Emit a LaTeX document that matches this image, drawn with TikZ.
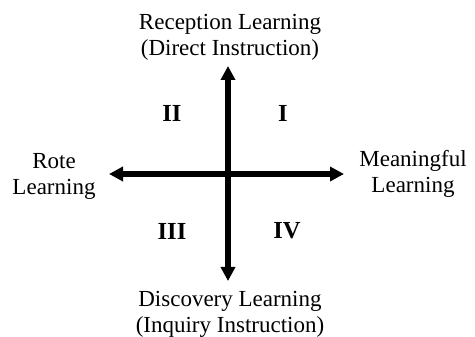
\documentclass[tikz,border=0pt]{standalone}
\usepackage{fontspec}
\setmainfont{Liberation Serif}
\usetikzlibrary{arrows.meta}

\begin{document}
\begin{tikzpicture}[x=1pt, y=-1pt,
    axis/.style={line width=5.5pt, -{Triangle[length=14pt, width=14pt]}},
    label/.style={align=center, inner sep=0pt, font=\fontsize{23}{26}\selectfont},
    quad/.style={inner sep=0pt, font=\fontsize{24.5}{26}\selectfont\bfseries}]
    \useasboundingbox (0,0) rectangle (475,337);

    % Axes
    \coordinate (c) at (228,174);
    \coordinate (top) at (228,66);
    \coordinate (bot) at (228,281);
    \coordinate (lft) at (109,174);
    \coordinate (rgt) at (344,174);
    \draw[axis] (c) -- (top);
    \draw[axis] (c) -- (bot);
    \draw[axis] (c) -- (lft);
    \draw[axis] (c) -- (rgt);

    % Axis labels
    \node[label] (recep) at (230,37) {Reception Learning\\(Direct Instruction)};
    \node[label] (disc) at (230,314) {Discovery Learning\\(Inquiry Instruction)};
    \node[label] (rote) at (54,176) {Rote\\Learning};
    \node[label] (mean) at (413,174) {Meaningful\\Learning};

    % Quadrants
    \node[quad] (q1) at (283,113) {I};
    \node[quad] (q2) at (172,113) {II};
    \node[quad] (q3) at (172,231) {III};
    \node[quad] (q4) at (287,231) {IV};
\end{tikzpicture}
\end{document}
